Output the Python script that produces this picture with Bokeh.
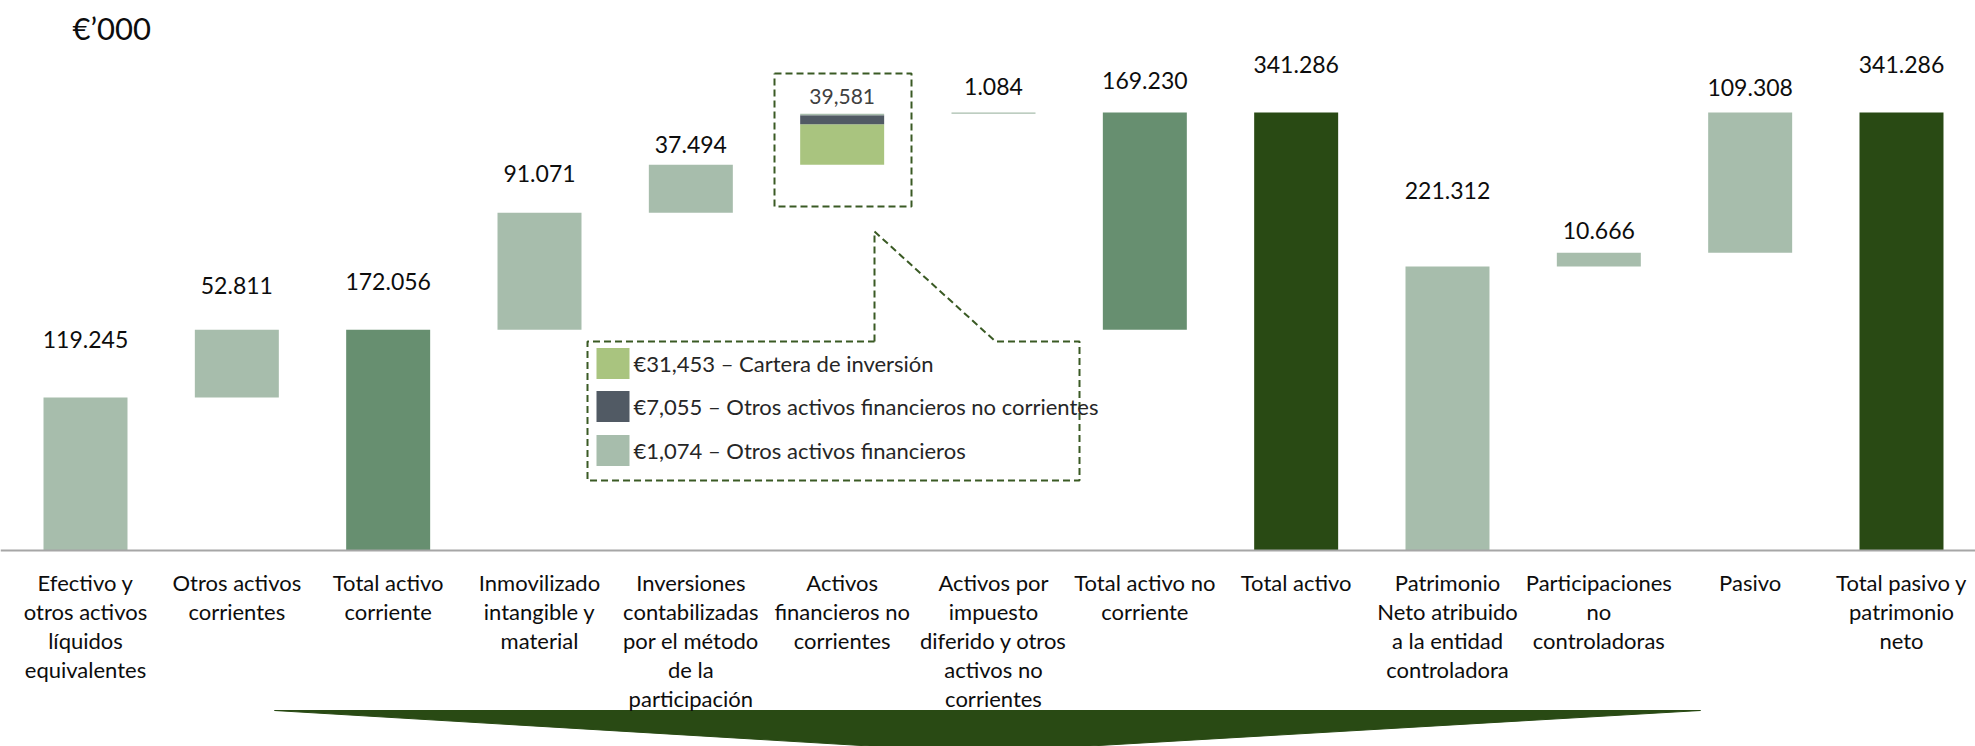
from bokeh.plotting import figure
from bokeh.models import Range1d, Span
from bokeh.embed import file_html
from bokeh.resources import INLINE
from bokeh.core.properties import value

# ---------------- data ----------------
categories = [
    "Efectivo y\notros activos\nlíquidos\nequivalentes",
    "Otros activos\ncorrientes",
    "Total activo\ncorriente",
    "Inmovilizado\nintangible y\nmaterial",
    "Inversiones\ncontabilizadas\npor el método\nde la\nparticipación",
    "Activos\nfinancieros no\ncorrientes",
    "Activos por\nimpuesto\ndiferido y otros\nactivos no\ncorrientes",
    "Total activo no\ncorriente",
    "Total activo",
    "Patrimonio\nNeto atribuido\na la entidad\ncontroladora",
    "Participaciones\nno\ncontroladoras",
    "Pasivo",
    "Total pasivo y\npatrimonio\nneto",
]
amounts = [119245, 52811, 172056, 91071, 37494, 39581, 1084,
           169230, 341286, 221312, 10666, 109308, 341286]
steps = ["delta", "delta", "total", "delta", "delta", "delta", "delta",
         "span", "total", "start", "delta", "delta", "total"]
roles = ["part", "part", "subtotal", "part", "part", "detail", "part",
         "subtotal", "total", "part", "part", "part", "total"]

breakdown_values = [31453, 7055, 1074]
breakdown_labels = ["€31,453 – Cartera de inversión",
                    "€7,055 – Otros activos financieros no corrientes",
                    "€1,074 – Otros activos financieros"]
breakdown_total_label = "39,581"
unit_label = "€’000"

# ---------------- styles ----------------
SAGE = "#A7BDAC"
MEDIUM = "#678F70"
DARK = "#294A14"
COLORS = {"part": SAGE, "subtotal": MEDIUM, "total": DARK}
BREAK_COLORS = ["#A9C47F", "#515A64", SAGE]
DASH = "#3A5A24"
FONT = "Lato"
# gap (px) between bar top and value-label centre
LABEL_GAP = [58, 44, 48, 39, 20, 17, 26, 32, 48, 76, 22, 25, 48]

W, H = 1975, 746
PX_PER_CAT = 151.333
PX_PER_UNIT = 1.2835 / 1000.0
x_start = -85.0 / PX_PER_CAT
x_end = x_start + W / PX_PER_CAT
y_top = 550.0 / PX_PER_UNIT
y_bottom = y_top - H / PX_PER_UNIT


def X(px):  # page pixel -> category units (for decorations)
    return x_start + px / PX_PER_CAT


def Y(py):  # page pixel -> value units (for decorations)
    return y_top - py / PX_PER_UNIT


# ---------------- waterfall geometry ----------------
xs = list(range(len(categories)))
bottoms, tops = [], []
running = 0
for a, s in zip(amounts, steps):
    if s == "delta":
        b, t = running, running + a
        running = t
    elif s in ("total", "start"):
        b, t = 0, a
        running = a
    else:  # span: floating subtotal ending at running total
        b, t = running - a, running
    bottoms.append(b)
    tops.append(t)

p = figure(width=W, height=H, x_range=Range1d(x_start, x_end),
           y_range=Range1d(y_bottom, y_top), output_backend="svg",
           toolbar_location=None, x_axis_type=None, y_axis_type=None,
           min_border_left=0, min_border_right=0, min_border_top=0,
           min_border_bottom=0)
p.grid.visible = False
p.outline_line_color = None
p.background_fill_color = "white"

# decorative downward chevron
p.patch([X(274), X(1700), X(978)], [Y(710), Y(710), Y(752)],
        fill_color=DARK, line_color=DARK, line_width=1)

# base line
p.add_layout(Span(location=0, dimension="width", line_color="#A6A6A6",
                  line_width=2))

BW = 0.555
idx = [i for i, r in enumerate(roles) if r != "detail"]
p.vbar(x=[xs[i] for i in idx], width=BW,
       bottom=[bottoms[i] for i in idx], top=[tops[i] for i in idx],
       fill_color=[COLORS[roles[i]] for i in idx], line_color=None)

# stacked detail bar
d = roles.index("detail")
sb, st = [], []
acc = bottoms[d]
for v in breakdown_values:
    sb.append(acc)
    acc += v
    st.append(acc)
p.vbar(x=[xs[d]] * len(breakdown_values), width=BW, bottom=sb, top=st,
       fill_color=BREAK_COLORS, line_color=None)


def fmt(v):
    return f"{v:,}".replace(",", ".")


# value labels
p.text(x=[xs[i] for i in idx],
       y=[tops[i] + LABEL_GAP[i] / PX_PER_UNIT for i in idx],
       text=[fmt(amounts[i]) for i in idx],
       text_align="center", text_baseline="middle",
       text_font=value(FONT), text_font_size="23px", text_color="#0D0D0D")
p.text(x=[xs[d]], y=[tops[d] + LABEL_GAP[d] / PX_PER_UNIT],
       text=[breakdown_total_label], text_align="center",
       text_baseline="middle", text_font=value(FONT),
       text_font_size="21px", text_color="#404040")

# category labels
p.text(x=xs, y=[Y(568)] * len(xs), text=categories, text_align="center",
       text_baseline="top", text_font=value(FONT), text_font_size="22px",
       text_line_height=1.08, text_color="#0D0D0D")

# unit label
p.text(x=[X(72)], y=[Y(27)], text=[unit_label], text_align="left",
       text_baseline="middle", text_font=value(FONT), text_font_size="31px",
       text_color="#0D0D0D")

# dashed inset box around detail bar
bx = [774, 911, 911, 774, 774]
by = [73, 73, 206, 206, 73]
p.line([X(v) for v in bx], [Y(v) for v in by], line_color=DASH,
       line_width=2, line_dash="7 4")

# dashed callout
cx = [874, 874, 995, 1079, 1079, 587, 587, 874]
cy = [341, 231, 341, 341, 480, 480, 341, 341]
p.line([X(v) for v in cx], [Y(v) for v in cy], line_color=DASH,
       line_width=2, line_dash="7 4")

# legend of the breakdown
ly = [363, 406, 450]
p.rect(x=[X(612.5)] * 3, y=[Y(v) for v in ly], width=33, height=31,
       width_units="screen", height_units="screen",
       fill_color=BREAK_COLORS, line_color=None)
p.text(x=[X(633)] * 3, y=[Y(v) for v in ly], text=breakdown_labels,
       text_align="left", text_baseline="middle", text_font=value(FONT),
       text_font_size="22px", text_color="#262626")

open("out.html", "w").write(file_html(p, INLINE))
